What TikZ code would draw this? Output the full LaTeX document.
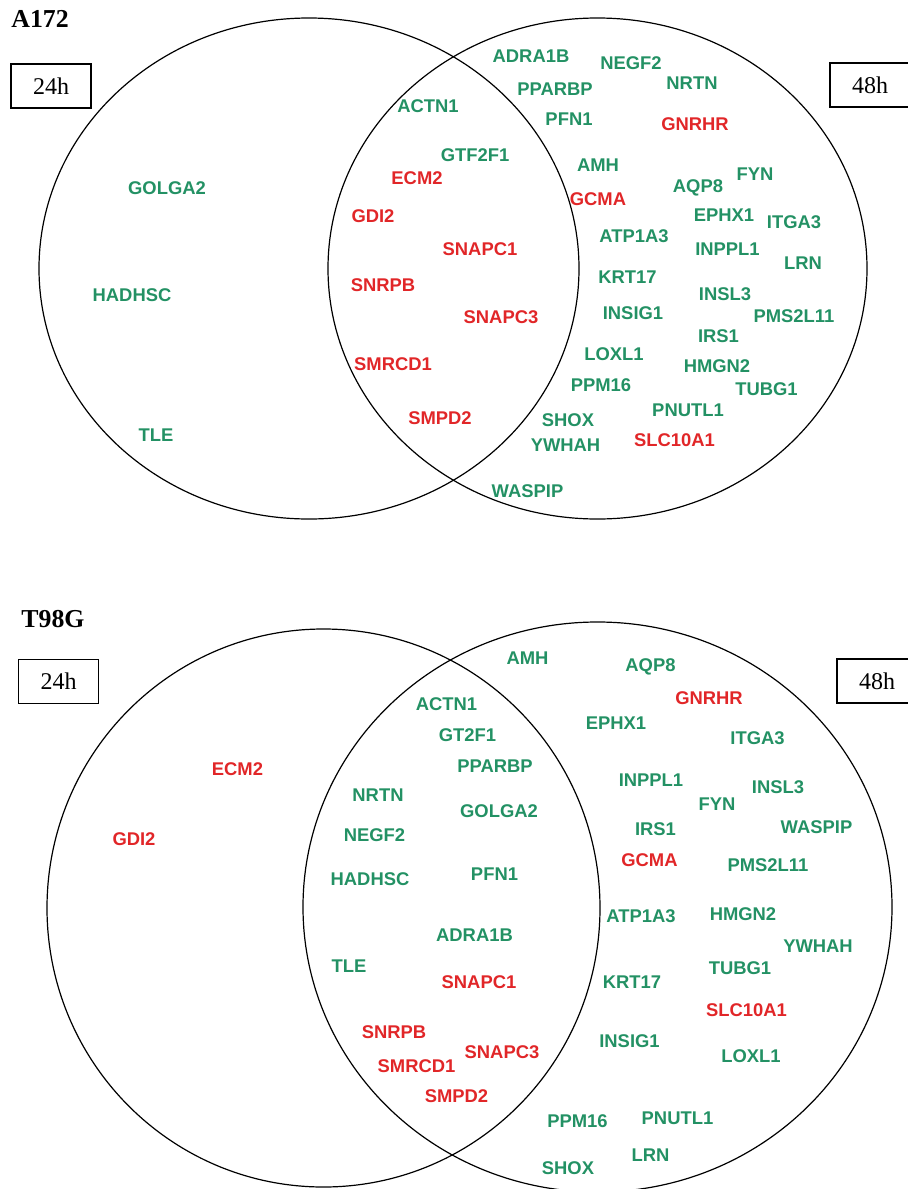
\documentclass[tikz,border=0pt]{standalone}
\usepackage{fontspec}
\setmainfont{Liberation Serif}
\setsansfont{Liberation Sans}
\usepackage{tikz}

\definecolor{genegreen}{RGB}{35,145,100}
\definecolor{genered}{RGB}{225,38,40}

\tikzset{
	gene/.style={font=\sffamily\bfseries\fontsize{9.2}{10}\selectfont,inner sep=0pt,text height=6.6pt,text depth=0pt},
	up/.style={gene,text=genegreen},
	down/.style={gene,text=genered},
	hourbox/.style={rectangle,draw=black,line width=.6pt,minimum width=40pt,minimum height=22pt,inner sep=0pt,font=\fontsize{12}{14}\selectfont},
	cellline/.style={font=\bfseries\fontsize{12.9}{14}\selectfont,inner sep=0pt,anchor=base west},
	set/.style={draw=black,line width=.6pt}
}

\begin{document}
\begin{tikzpicture}[x=.5pt,y=-.5pt]
		\useasboundingbox (0,0) rectangle (908,1189);

		% ---------------- A172 ----------------
		\node[cellline] (a172) at (11,27) {A172};
		\node[hourbox] (a-24h) at (51,86) {24h};
		\node[hourbox] (a-48h) at (870,85) {48h};

		% sets
		\draw[set] (309,268.5) ellipse [x radius=270, y radius=250.5];
		\draw[set] (597.5,268.5) ellipse [x radius=269.5, y radius=250.5];

		% 24h only
		\node[up] (a-golga2) at (167,187.5) {GOLGA2};
		\node[up] (a-hadhsc) at (132,295) {HADHSC};
		\node[up] (a-tle) at (156,435) {TLE};

		% both
		\node[up] (a-actn1) at (428,106) {ACTN1};
		\node[up] (a-gtf2f1) at (475,155) {GTF2F1};
		\node[down] (a-ecm2) at (417,177.5) {ECM2};
		\node[down] (a-gdi2) at (373,216) {GDI2};
		\node[down] (a-snapc1) at (480,249) {SNAPC1};
		\node[down] (a-snrpb) at (383,285) {SNRPB};
		\node[down] (a-snapc3) at (501,317) {SNAPC3};
		\node[down] (a-smrcd1) at (393,364) {SMRCD1};
		\node[down] (a-smpd2) at (440,418) {SMPD2};

		% 48h only
		\node[up] (a-adra1b) at (531,56) {ADRA1B};
		\node[up] (a-negf2) at (631,62.5) {NEGF2};
		\node[up] (a-nrtn) at (692,82.5) {NRTN};
		\node[up] (a-pparbp) at (555,89) {PPARBP};
		\node[up] (a-pfn1) at (569,119) {PFN1};
		\node[down] (a-gnrhr) at (695,124) {GNRHR};
		\node[up] (a-amh) at (598,165) {AMH};
		\node[down] (a-gcma) at (598,199) {GCMA};
		\node[up] (a-aqp8) at (698,186) {AQP8};
		\node[up] (a-fyn) at (755,174) {FYN};
		\node[up] (a-ephx1) at (724,215) {EPHX1};
		\node[up] (a-itga3) at (794,221.5) {ITGA3};
		\node[up] (a-atp1a3) at (634,235.5) {ATP1A3};
		\node[up] (a-inppl1) at (727.5,249) {INPPL1};
		\node[up] (a-lrn) at (803,263) {LRN};
		\node[up] (a-krt17) at (627.5,276.5) {KRT17};
		\node[up] (a-insl3) at (725,294) {INSL3};
		\node[up] (a-insig1) at (633,313) {INSIG1};
		\node[up] (a-pms2l11) at (794,316) {PMS2L11};
		\node[up] (a-irs1) at (718.5,335.5) {IRS1};
		\node[up] (a-loxl1) at (614,354) {LOXL1};
		\node[up] (a-hmgn2) at (717,366) {HMGN2};
		\node[up] (a-ppm16) at (601,385) {PPM16};
		\node[up] (a-tubg1) at (766.5,389) {TUBG1};
		\node[up] (a-pnutl1) at (688,410) {PNUTL1};
		\node[up] (a-shox) at (568,420) {SHOX};
		\node[up] (a-ywhah) at (565.5,445) {YWHAH};
		\node[down] (a-slc10a1) at (674.5,439.5) {SLC10A1};
		\node[up] (a-waspip) at (527.5,491) {WASPIP};

		% ---------------- T98G ----------------
		\node[cellline] (t98g) at (21,627) {T98G};
		\node[hourbox] (t-24h) at (58.5,681.5) {24h};
		\node[hourbox] (t-48h) at (877,681) {48h};

		% sets
		\draw[set] (323.5,908) ellipse [x radius=276.5, y radius=279];
		\draw[set] (597.5,907) ellipse [x radius=294.5, y radius=285];

		% 24h only
		\node[down] (t-ecm2) at (237.5,769) {ECM2};
		\node[down] (t-gdi2) at (134,839) {GDI2};

		% both
		\node[up] (t-actn1) at (446.5,704) {ACTN1};
		\node[up] (t-gt2f1) at (467.5,735) {GT2F1};
		\node[up] (t-pparbp) at (495,766) {PPARBP};
		\node[up] (t-nrtn) at (378,795) {NRTN};
		\node[up] (t-golga2) at (499,811) {GOLGA2};
		\node[up] (t-negf2) at (374.5,834.5) {NEGF2};
		\node[up] (t-hadhsc) at (370,879) {HADHSC};
		\node[up] (t-pfn1) at (494.5,874) {PFN1};
		\node[up] (t-adra1b) at (474.5,935) {ADRA1B};
		\node[up] (t-tle) at (349,966) {TLE};
		\node[down] (t-snapc1) at (479,982) {SNAPC1};
		\node[down] (t-snrpb) at (394,1032) {SNRPB};
		\node[down] (t-snapc3) at (502,1052) {SNAPC3};
		\node[down] (t-smrcd1) at (416.5,1065.5) {SMRCD1};
		\node[down] (t-smpd2) at (456.5,1095.5) {SMPD2};

		% 48h only
		\node[up] (t-amh) at (527.5,657.5) {AMH};
		\node[up] (t-aqp8) at (650.5,664.5) {AQP8};
		\node[down] (t-gnrhr) at (709,698) {GNRHR};
		\node[up] (t-ephx1) at (616,723) {EPHX1};
		\node[up] (t-itga3) at (757.5,738) {ITGA3};
		\node[up] (t-inppl1) at (651,780) {INPPL1};
		\node[up] (t-insl3) at (778,787) {INSL3};
		\node[up] (t-fyn) at (717,804) {FYN};
		\node[up] (t-waspip) at (816.5,827) {WASPIP};
		\node[up] (t-irs1) at (655.5,829) {IRS1};
		\node[down] (t-gcma) at (649.5,860) {GCMA};
		\node[up] (t-pms2l11) at (768,865) {PMS2L11};
		\node[up] (t-atp1a3) at (641,916) {ATP1A3};
		\node[up] (t-hmgn2) at (743,914) {HMGN2};
		\node[up] (t-ywhah) at (818,945.5) {YWHAH};
		\node[up] (t-tubg1) at (740,968) {TUBG1};
		\node[up] (t-krt17) at (632,982) {KRT17};
		\node[down] (t-slc10a1) at (746.5,1010) {SLC10A1};
		\node[up] (t-insig1) at (629.5,1041) {INSIG1};
		\node[up] (t-loxl1) at (751,1056) {LOXL1};
		\node[up] (t-ppm16) at (577.5,1121) {PPM16};
		\node[up] (t-pnutl1) at (677.5,1118) {PNUTL1};
		\node[up] (t-lrn) at (650.5,1155) {LRN};
		\node[up] (t-shox) at (568,1168) {SHOX};
	\end{tikzpicture}
\end{document}
